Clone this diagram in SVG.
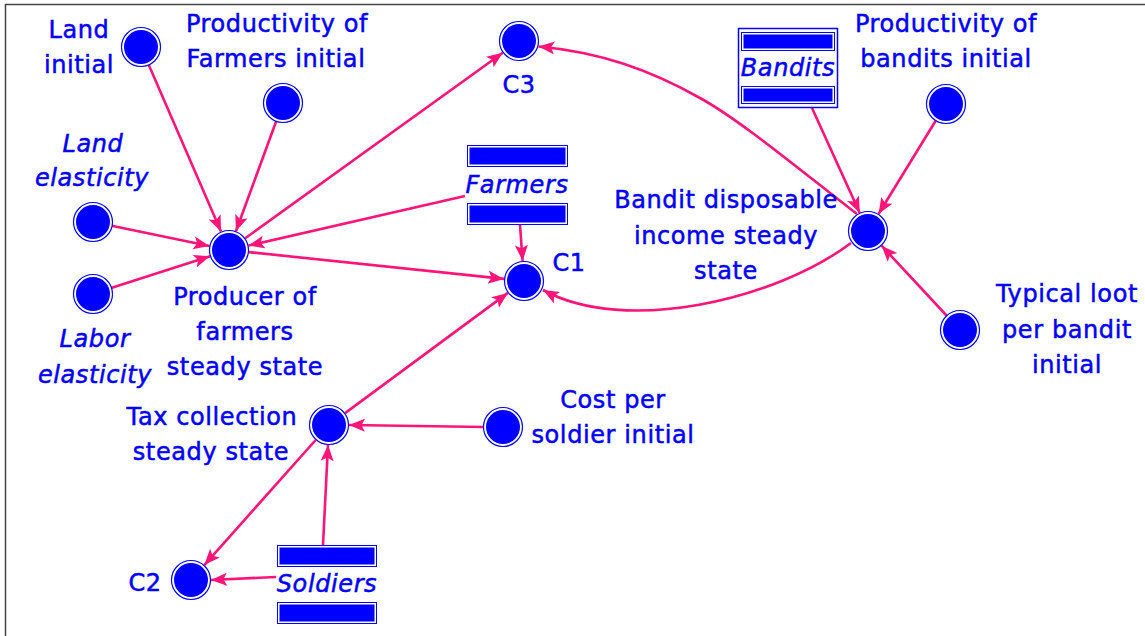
<svg xmlns="http://www.w3.org/2000/svg" width="1145" height="636" viewBox="0 0 1145 636">
  <style>
    .lbl { font-family: "DejaVu Sans", Verdana, sans-serif; font-size: 24px; fill: #0000ff; stroke: #0000ff; stroke-width: 0.5; text-anchor: middle; letter-spacing: 0.6px; }
    .it { font-style: italic; }
    .ring { fill: #ffffff; stroke: #0000ff; stroke-width: 1.2; }
    .core { fill: #0000ff; }
    .barOut { fill: #ffffff; stroke: #0000ff; stroke-width: 1; }
    .barIn { fill: #0000ff; }
    .link { fill: none; stroke: #ff1477; stroke-width: 2.6; marker-end: url(#head); }
  </style>
  <defs>
    <marker id="head" markerUnits="userSpaceOnUse" markerWidth="18" markerHeight="14" refX="16" refY="6.5" orient="auto">
      <path d="M0,0 L16,6.5 L0,13 L3.5,6.5 z" fill="#ff1477"/>
    </marker>
    <g id="aux">
      <circle class="ring" r="19.5"/>
      <circle class="core" r="17"/>
    </g>
  </defs>

  <rect width="1145" height="636" fill="#ffffff"/>
  <!-- frame -->
  <path d="M5.5,636 V4.5 H1145" fill="none" stroke="#444444" stroke-width="1.5"/>

  <!-- connectors -->
  <g id="connectors">
    <line class="link" x1="148.6" y1="64.5" x2="221" y2="231.6"/>
    <line class="link" x1="276.4" y1="120.8" x2="235.9" y2="231.2"/>
    <line class="link" x1="111.6" y1="225.8" x2="209.4" y2="246"/>
    <line class="link" x1="111.1" y1="288.1" x2="210" y2="256.2"/>
    <line class="link" x1="465" y1="196" x2="248.5" y2="245.6"/>
    <line class="link" x1="245.2" y1="238.3" x2="502.8" y2="52.7"/>
    <line class="link" x1="248.9" y1="252.1" x2="504.1" y2="278.9"/>
    <line class="link" x1="520" y1="225" x2="522.6" y2="261"/>
    <path class="link" d="M857,214 C800,170 740,120 700,98 C650,70 600,52 538.5,46.5"/>
    <path class="link" d="M851,243 C775,300 625,335 543,290"/>
    <line class="link" x1="812" y1="108" x2="859.7" y2="212.8"/>
    <line class="link" x1="936" y1="120.2" x2="878.5" y2="214"/>
    <line class="link" x1="947" y1="316" x2="881.6" y2="245.7"/>
    <line class="link" x1="345.1" y1="413.1" x2="507.9" y2="292.9"/>
    <line class="link" x1="484" y1="427" x2="349" y2="425"/>
    <line class="link" x1="323" y1="545" x2="328" y2="445"/>
    <line class="link" x1="315.7" y1="440" x2="204.3" y2="565.1"/>
    <line class="link" x1="276" y1="577" x2="211" y2="580"/>
  </g>

  <!-- auxiliaries -->
  <g id="land-initial">
    <use href="#aux" x="141" y="47"/>
    <text class="lbl" x="79" y="38">Land</text>
    <text class="lbl" x="79" y="73">initial</text>
  </g>
  <g id="productivity-farmers-initial">
    <use href="#aux" x="283" y="103"/>
    <text class="lbl" x="277" y="32">Productivity of</text>
    <text class="lbl" x="276" y="67">Farmers initial</text>
  </g>
  <g id="land-elasticity">
    <use href="#aux" x="93" y="222"/>
    <text class="lbl it" x="93" y="152">Land</text>
    <text class="lbl it" x="92" y="186">elasticity</text>
  </g>
  <g id="labor-elasticity">
    <use href="#aux" x="93" y="294"/>
    <text class="lbl it" x="95" y="347">Labor</text>
    <text class="lbl it" x="95" y="383">elasticity</text>
  </g>
  <g id="producer-steady-state">
    <use href="#aux" x="229" y="250"/>
    <text class="lbl" x="245" y="305">Producer of</text>
    <text class="lbl" x="245" y="340">farmers</text>
    <text class="lbl" x="245" y="375">steady state</text>
  </g>
  <g id="c3">
    <use href="#aux" x="519" y="41"/>
    <text class="lbl" x="519" y="93">C3</text>
  </g>
  <g id="c1">
    <use href="#aux" x="524" y="281"/>
    <text class="lbl" x="569" y="271">C1</text>
  </g>
  <g id="c2">
    <use href="#aux" x="191" y="580"/>
    <text class="lbl" x="145" y="591">C2</text>
  </g>
  <g id="bandit-disposable-income">
    <use href="#aux" x="868" y="231"/>
    <text class="lbl" x="726" y="208">Bandit disposable</text>
    <text class="lbl" x="726" y="244">income steady</text>
    <text class="lbl" x="726" y="279">state</text>
  </g>
  <g id="productivity-bandits-initial">
    <use href="#aux" x="946" y="104"/>
    <text class="lbl" x="946" y="32">Productivity of</text>
    <text class="lbl" x="946" y="67">bandits initial</text>
  </g>
  <g id="typical-loot">
    <use href="#aux" x="960" y="330"/>
    <text class="lbl" x="1067" y="302">Typical loot</text>
    <text class="lbl" x="1067" y="338">per bandit</text>
    <text class="lbl" x="1067" y="373">initial</text>
  </g>
  <g id="tax-collection">
    <use href="#aux" x="329" y="425"/>
    <text class="lbl" x="212" y="425">Tax collection</text>
    <text class="lbl" x="211" y="460">steady state</text>
  </g>
  <g id="cost-per-soldier">
    <use href="#aux" x="503" y="427"/>
    <text class="lbl" x="613" y="408">Cost per</text>
    <text class="lbl" x="613" y="443">soldier initial</text>
  </g>

  <!-- stocks -->
  <g id="farmers">
    <rect class="barOut" x="467.5" y="145.5" width="100" height="21"/>
    <rect class="barIn" x="469.5" y="147.5" width="96" height="17"/>
    <rect class="barOut" x="467.5" y="203.5" width="100" height="21"/>
    <rect class="barIn" x="469.5" y="205.5" width="96" height="17"/>
    <text class="lbl it" x="517" y="193">Farmers</text>
  </g>
  <g id="bandits">
    <rect x="738.5" y="28.5" width="99" height="79" fill="#ffffff" stroke="#0000ff" stroke-width="1.5"/>
    <rect class="barOut" x="741.5" y="32.5" width="93" height="18"/>
    <rect class="barIn" x="743.5" y="34.5" width="89" height="14"/>
    <rect class="barOut" x="741.5" y="86.5" width="93" height="17"/>
    <rect class="barIn" x="743.5" y="88.5" width="89" height="13"/>
    <text class="lbl it" x="788" y="76">Bandits</text>
  </g>
  <g id="soldiers">
    <rect class="barOut" x="277.5" y="545.5" width="99" height="21"/>
    <rect class="barIn" x="279.5" y="547.5" width="95" height="17"/>
    <rect class="barOut" x="277.5" y="602.5" width="99" height="21"/>
    <rect class="barIn" x="279.5" y="604.5" width="95" height="17"/>
    <text class="lbl it" x="327" y="592">Soldiers</text>
  </g>
</svg>
